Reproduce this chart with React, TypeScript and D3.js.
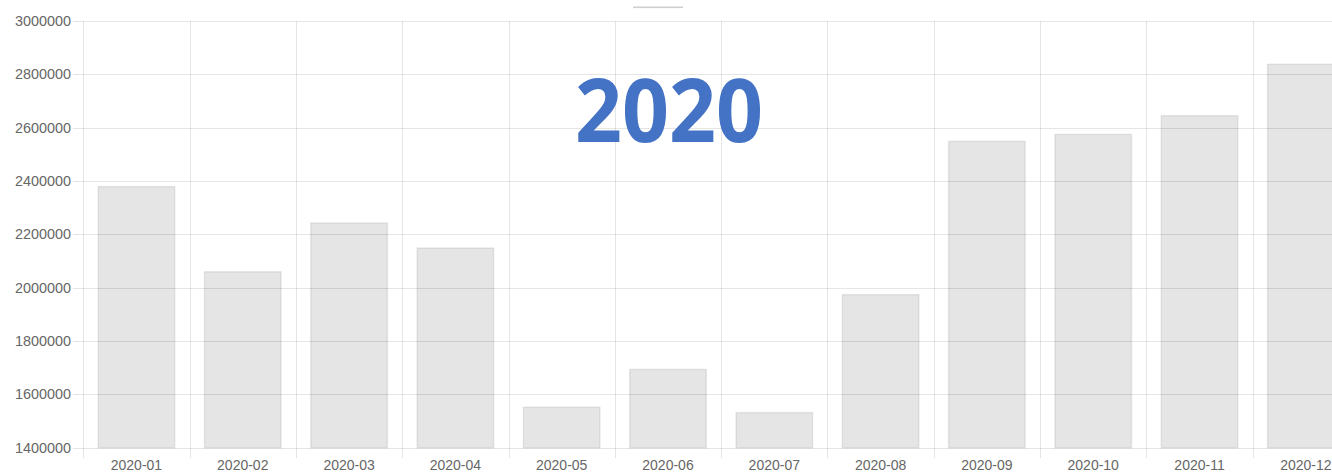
import { useEffect } from 'react';
import * as d3 from 'd3';

const months = [
  '2020-01', '2020-02', '2020-03', '2020-04', '2020-05', '2020-06',
  '2020-07', '2020-08', '2020-09', '2020-10', '2020-11', '2020-12',
];
const sales = [
  2379000, 2060000, 2243000, 2149000, 1552000, 1694000,
  1532000, 1974000, 2549000, 2575000, 2645000, 2838000,
];
const yTicks = [1400000, 1600000, 1800000, 2000000, 2200000, 2400000, 2600000, 2800000, 3000000];
const title = '2020';

const W = 1332;
const H = 474;
const grid = 'rgba(0,0,0,0.1)';

export default function App() {
  useEffect(() => {
    document.body.style.margin = '0';
  }, []);

  const x = d3.scaleBand<string>().domain(months).range([83.3, 1359]).paddingInner(0).paddingOuter(0);
  const y = d3.scaleLinear().domain([1400000, 3000000]).range([447.8, 21]);
  const bw = x.bandwidth();
  const barW = bw * 0.72;

  return (
    <svg width={W} height={H} style={{ display: 'block', fontFamily: '"Liberation Sans", Arial, sans-serif' }}>
      {/* legend placeholder */}
      <rect x={633} y={6.5} width={50} height={1.6} fill="#cfcfcf" />

      {/* horizontal grid + ticks */}
      {yTicks.map((t) => (
        <g key={t}>
          <line x1={73} x2={W} y1={Math.round(y(t)) + 0.5} y2={Math.round(y(t)) + 0.5} stroke={grid} strokeWidth={1} />
          <text x={71} y={y(t) + 5} textAnchor="end" fontSize={14.4} fill="#666">
            {t}
          </text>
        </g>
      ))}

      {/* vertical grid + ticks */}
      {months.map((m) => (
        <line
          key={m}
          x1={Math.round(x(m)!) + 0.5}
          x2={Math.round(x(m)!) + 0.5}
          y1={21}
          y2={458}
          stroke={grid}
          strokeWidth={1}
        />
      ))}

      {/* bars */}
      {months.map((m, i) => (
        <rect
          key={m}
          x={x(m)! + (bw - barW) / 2}
          y={y(sales[i])}
          width={barW}
          height={y(1400000) - y(sales[i])}
          fill="rgba(0,0,0,0.1)"
          stroke="rgba(0,0,0,0.08)"
          strokeWidth={1.5}
        />
      ))}

      {/* x labels */}
      {months.map((m) => (
        <text key={m} x={x(m)! + bw / 2} y={470} textAnchor="middle" fontSize={14} fill="#666">
          {m}
        </text>
      ))}

      <text
        x={669}
        y={142}
        textAnchor="middle"
        fontSize={88}
        fontWeight="bold"
        fill="#4472C4"
        fontFamily='"Open Sans", sans-serif'
        textLength={188}
        lengthAdjust="spacingAndGlyphs"
      >
        {title}
      </text>
    </svg>
  );
}
